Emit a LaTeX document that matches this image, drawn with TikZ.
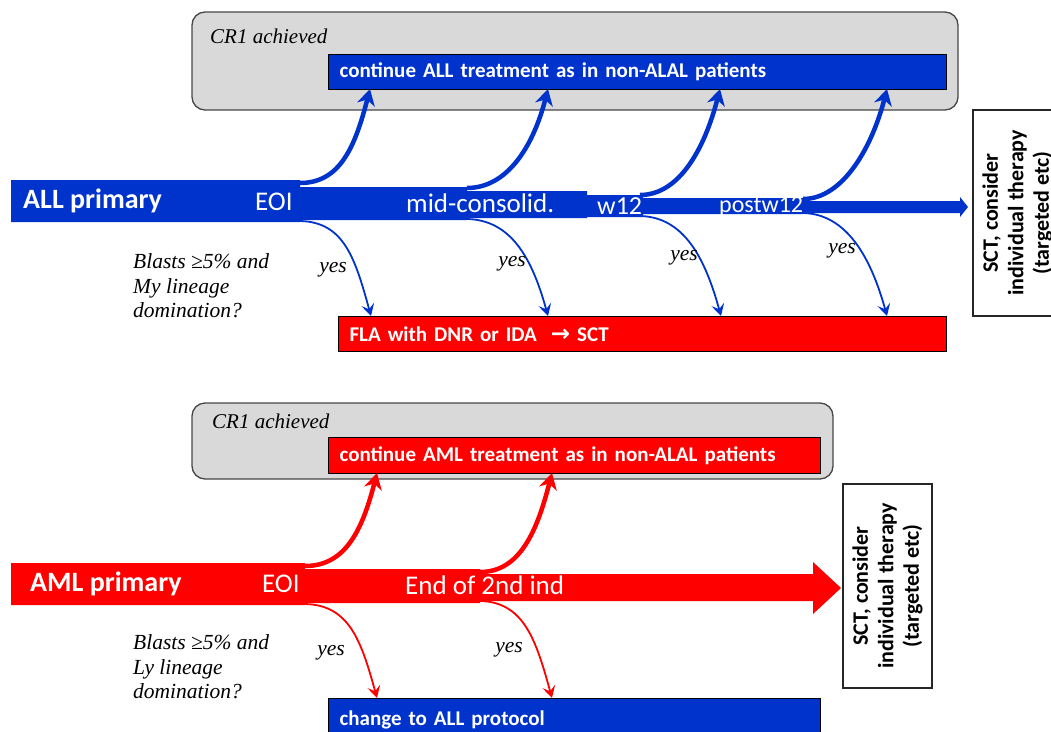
\documentclass[tikz,border=0pt]{standalone}
\usepackage{fontspec}
\setmainfont{Carlito}
\newfontfamily\noteserif{Liberation Serif}
\newfontfamily\arrowfont{DejaVu Sans}
\usepackage{tikz}
\usetikzlibrary{arrows.meta, positioning, calc}
\definecolor{allblue}{RGB}{0,51,204}
\definecolor{amlred}{RGB}{255,0,0}
\definecolor{crgray}{RGB}{217,217,217}
\definecolor{crframe}{RGB}{70,70,70}
\tikzset{
  crbox/.style={draw=crframe, fill=crgray, line width=1.3pt, rounded corners=13pt},
  treatbox/.style={draw=black, line width=1.2pt, text=white, anchor=north west,
    inner xsep=11pt, inner ysep=0pt, align=left, minimum height=35pt,
    font=\fontsize{21}{24}\selectfont\bfseries},
  sctbox/.style={draw=black!85, line width=1.2pt, rotate=90, align=center,
    inner sep=0pt, font=\fontsize{22}{25.5}\selectfont\bfseries},
  barlabel/.style={text=white, anchor=base west, inner sep=0pt,
    font=\fontsize{27}{30}\selectfont},
  note/.style={anchor=west, inner sep=0pt, align=left,
    font=\noteserif\itshape\fontsize{21.5}{24.5}\selectfont},
  crlabel/.style={anchor=base west, inner sep=0pt,
    font=\noteserif\itshape\fontsize{21}{24}\selectfont},
  yeslabel/.style={anchor=base, inner sep=0pt,
    font=\noteserif\itshape\fontsize{21.5}{24}\selectfont},
  uparrow/.style={line width=4.5pt, -{Stealth[length=16pt, width=18pt, inset=5pt]}},
  yesarrow/.style={line width=1.8pt, -{Stealth[length=12pt, width=13pt, inset=5pt]}}
}

\begin{document}
\begin{tikzpicture}[x=1pt, y=-1pt]
  \useasboundingbox (0,0) rectangle (1051,731);
  \clip (0,0) rectangle (1051,731);

  % ALL primary
  \draw[crbox] (192,12) rectangle (958,110);
  \node[crlabel] (cr1a) at (210,43) {CR1 achieved};
  \node[treatbox, fill=allblue, text width=596pt] (allcont) at (328,54) {continue ALL treatment as in non-ALAL patients};
  \node[treatbox, fill=amlred, text width=586pt] (fla) at (338,316) {FLA with DNR or IDA~~{\arrowfont\bfseries\fontsize{23}{24}\selectfont →} SCT};
  \node[sctbox, minimum width=206pt, minimum height=89pt] (sct1) at (1017.5,213) {SCT, consider\\individual therapy\\(targeted etc)};

  % tapering bar
  \fill[allblue] (11,180) -- (300,180) -- (300,187) -- (467,187) -- (467,191) -- (587,191)
    -- (587,195) -- (643,195) -- (643,198) -- (803,198) -- (803,201) -- (960,201)
    -- (960,197) -- (968,207) -- (960,217) -- (960,213) -- (803,213) -- (803,214)
    -- (643,214) -- (643,217) -- (587,217) -- (587,218) -- (467,218) -- (467,220)
    -- (300,220) -- (300,222) -- (11,222) -- cycle;

  % branches
  \foreach \i/\sx/\sy/\tx in {1/300/183/370, 2/467/188/548, 3/640/195/720, 4/803/199/887} {
    \coordinate (allup\i) at (\sx,\sy);
    \coordinate (allcr\i) at (\tx,89);
    \draw[uparrow, allblue] (allup\i) .. controls ($(allup\i)+(40,0)$) and ($(allcr\i)+(-15,58)$) .. (allcr\i);
  }
  \foreach \i/\sx/\sy/\tx in {1/300/221/371, 2/467/219/548, 3/640/216/721, 4/803/213/887} {
    \coordinate (alldn\i) at (\sx,\sy);
    \coordinate (allfla\i) at (\tx,316);
    \draw[yesarrow, allblue] (alldn\i) .. controls ($(alldn\i)+(44,1)$) and ($(allfla\i)+(-16,-58)$) .. (allfla\i);
  }

  \node[barlabel, font=\fontsize{28}{30}\selectfont\bfseries] (allp) at (23,208) {ALL primary};
  \node[barlabel] (alleoi) at (255,210) {EOI};
  \node[barlabel] (midc) at (406,212) {mid-consolid.};
  \node[barlabel, font=\fontsize{26}{30}\selectfont] (w12) at (597,214) {w12};
  \node[barlabel, font=\fontsize{24}{28}\selectfont] (postw) at (719,212) {postw12};

  \node[note] (allq) at (133,286) {Blasts ≥5\% and\\My lineage\\domination?};
  \node[yeslabel] (ay1) at (333,272) {yes};
  \node[yeslabel] (ay2) at (512,266) {yes};
  \node[yeslabel] (ay3) at (684,260) {yes};
  \node[yeslabel] (ay4) at (842,253) {yes};

  % AML primary
  \draw[crbox] (192,403) rectangle (833,479);
  \node[crlabel] (cr1b) at (212,428) {CR1 achieved};
  \node[treatbox, fill=amlred, text width=470pt, minimum height=36pt] (amlcont) at (328,437) {continue AML treatment as in non-ALAL patients};
  \node[treatbox, fill=allblue, text width=470pt, minimum height=42pt] (toall) at (328,698) {change to ALL protocol};
  \node[sctbox, minimum width=204pt, minimum height=89pt] (sct2) at (887.5,586) {SCT, consider\\individual therapy\\(targeted etc)};

  \fill[amlred] (11,563) -- (305,563) -- (305,569) -- (480,569) -- (480,574) -- (813,574)
    -- (813,562) -- (841,588) -- (813,614) -- (813,601) -- (480,601) -- (480,603)
    -- (305,603) -- (305,605) -- (11,605) -- cycle;

  \foreach \i/\sx/\sy/\tx in {1/305/566/377, 2/480/572/552} {
    \coordinate (amlup\i) at (\sx,\sy);
    \coordinate (amlcr\i) at (\tx,473);
    \draw[uparrow, amlred] (amlup\i) .. controls ($(amlup\i)+(40,0)$) and ($(amlcr\i)+(-15,58)$) .. (amlcr\i);
  }
  \foreach \i/\sx/\sy/\tx in {1/305/604/377, 2/480/601/552} {
    \coordinate (amldn\i) at (\sx,\sy);
    \coordinate (amlall\i) at (\tx,698);
    \draw[yesarrow, amlred] (amldn\i) .. controls ($(amldn\i)+(44,1)$) and ($(amlall\i)+(-16,-58)$) .. (amlall\i);
  }

  \node[barlabel, font=\fontsize{28}{30}\selectfont\bfseries] (amlp) at (30,591) {AML primary};
  \node[barlabel] (amleoi) at (262,592) {EOI};
  \node[barlabel] (end2) at (405,594) {End of 2nd ind};

  \node[note] (amlq) at (133,667) {Blasts ≥5\% and\\Ly lineage\\domination?};
  \node[yeslabel] (by1) at (331,655) {yes};
  \node[yeslabel] (by2) at (509,652) {yes};
\end{tikzpicture}
\end{document}
